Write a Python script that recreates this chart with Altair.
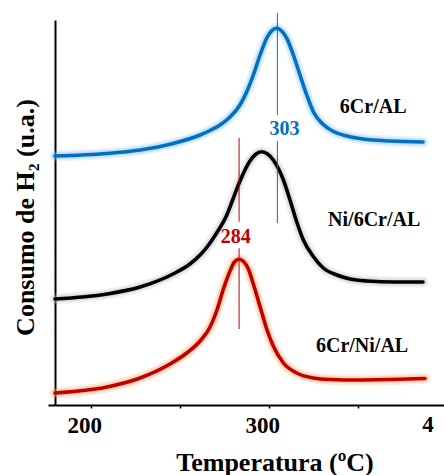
import altair as alt
import pandas as pd

# --- data (temperature in ºC, H2 consumption in arbitrary units) ---
series = ["6Cr/AL", "Ni/6Cr/AL", "6Cr/Ni/AL"]

t_blue = [179.6, 208.8, 227.4, 245.9, 261.1, 266.7, 272.3, 277.9, 283.5, 287.3, 291.0, 294.8, 298.5,
          301.2, 304.2, 306.9, 309.8, 313.5, 317.2, 321.0, 324.7, 330.3, 336.0, 343.5, 352.6, 367.8, 386.3]
h_blue = [249, 251.5, 255, 261.5, 270, 274.5, 280, 288, 300, 313.3, 330, 350, 366.7,
          374, 376.7, 374, 366.7, 350, 330, 310, 293.3, 280.5, 273.5, 269, 266, 264, 263]

t_black = [179.6, 208.8, 227.4, 245.9, 255.4, 261.1, 264.8, 270.4, 276.1, 279.8, 283.5, 289.1, 292.2,
           295.7, 299.0, 302.2, 307.9, 311.6, 315.4, 319.1, 324.7, 330.3, 337.9, 345.3, 354.9, 370.6, 386.3]
h_black = [106, 111, 118, 131, 141, 150, 157.5, 172, 190, 207, 224, 244, 250.5,
           253.3, 251, 245, 225, 205, 183, 165, 148.5, 137, 130, 126, 124, 123, 123]

t_red = [179.6, 208.8, 227.4, 244.2, 253.6, 261.1, 266.7, 270.4, 274.2, 277.9, 280.4, 283.0, 285.5,
         288.2, 291.0, 294.8, 298.5, 302.2, 307.9, 315.4, 324.7, 334.1, 349.3, 367.8, 387.4]
h_red = [12, 18, 27, 41, 52, 64, 78, 94, 116, 134, 143, 145.7, 143.5,
         136, 121, 98.3, 76, 59, 42, 32, 27, 25.5, 25, 25.5, 26.5]

# peak markers
peak_T = [304.5, 283.0]
peak_text = ["303", "284"]

# annotations
curve_label_T = [358.3, 358.9, 352.1]
curve_label_H = [298, 185, 59]
peak_label_T = [308.5, 281.1]
peak_label_H = [276, 168.3]

# vertical marker segments (two pieces each, leaving room for the number)
rule_T = [304.5, 304.5, 283.0, 283.0]
rule_y1 = [392, 264, 267, 156.7]
rule_y2 = [290, 182, 183.3, 76]

x_tick_values = [200, 250, 300, 350]
x_cut_label_T = [400]
x_cut_label = ["4"]

line_colors = ["#0070C0", "#000000", "#C00000"]
glow_colors = ["#8FC3F2", "#BDBDBD", "#F5A66A"]
peak_colors = ["#0070C0", "#C00000"]

rows = []
for name, ts, hs in [(series[0], t_blue, h_blue), (series[1], t_black, h_black), (series[2], t_red, h_red)]:
    for t, h in zip(ts, hs):
        rows.append({"serie": name, "T": t, "H": h})
df = pd.DataFrame(rows)

FONT = "Liberation Serif"

xscale = alt.Scale(domain=[179.6, 398.1], nice=False, zero=False)
yscale = alt.Scale(domain=[0, 385], nice=False, zero=False)

x_enc = alt.X(
    "T:Q", scale=xscale,
    axis=alt.Axis(
        values=x_tick_values,
        labelExpr="datum.value % 100 == 0 ? datum.label : ''",
        tickSize=3, tickColor="black", tickWidth=1.5,
        domainColor="black", domainWidth=2,
        labelFont=FONT, labelFontWeight="bold", labelFontSize=23, labelColor="black",
        labelOffset=-7, labelPadding=6,
        grid=False,
        title="Temperatura (ºC)", titleFont=FONT, titleFontWeight="bold", titleFontSize=26,
        titleColor="black", titleX=219.5, titleY=65, titleAlign="center", titleBaseline="alphabetic",
    ),
)
y_enc = alt.Y(
    "H:Q", scale=yscale,
    axis=alt.Axis(
        values=[0], labels=False, tickSize=7, tickColor="black", tickWidth=2,
        domainColor="black", domainWidth=2, grid=False,
        title="Consumo de H₂ (u.a.)", titleFont=FONT, titleFontWeight="bold", titleFontSize=26,
        titleColor="black", titleX=-22, titleY=197, titleAlign="center", titleBaseline="alphabetic",
        titleAngle=270,
    ),
)

base = alt.Chart(df)

glow_outer = base.mark_line(interpolate="monotone", strokeWidth=11, opacity=0.22, strokeCap="round").encode(
    x=x_enc, y=y_enc,
    color=alt.Color("serie:N", scale=alt.Scale(domain=series, range=glow_colors), legend=None),
)
glow_inner = base.mark_line(interpolate="monotone", strokeWidth=7, opacity=0.35, strokeCap="round").encode(
    x="T:Q", y="H:Q",
    color=alt.Color("serie:N", scale=alt.Scale(domain=series, range=glow_colors), legend=None),
)
lines = base.mark_line(interpolate="monotone", strokeWidth=3.6, strokeCap="round").encode(
    x="T:Q", y="H:Q",
    color=alt.Color("serie:N", scale=alt.Scale(domain=series, range=line_colors), legend=None),
)

rules_df = pd.DataFrame({
    "T": rule_T, "y1": rule_y1, "y2": rule_y2,
    "c": [peak_colors[0], peak_colors[0], peak_colors[1], peak_colors[1]],
})
rules = alt.Chart(rules_df).mark_rule(strokeWidth=1).encode(
    x="T:Q", y="y1:Q", y2="y2:Q", color=alt.Color("c:N", scale=None)
)

curve_labels = alt.Chart(pd.DataFrame({
    "T": curve_label_T, "H": curve_label_H, "txt": series,
})).mark_text(font=FONT, fontWeight="bold", fontSize=20, color="black", baseline="middle").encode(
    x="T:Q", y="H:Q", text="txt:N"
)

peak_labels = alt.Chart(pd.DataFrame({
    "T": peak_label_T, "H": peak_label_H, "txt": peak_text, "c": peak_colors,
})).mark_text(font=FONT, fontWeight="bold", fontSize=20, baseline="middle").encode(
    x="T:Q", y="H:Q", text="txt:N", color=alt.Color("c:N", scale=None)
)

cut_label = alt.Chart(pd.DataFrame({"T": x_cut_label_T, "txt": x_cut_label})).mark_text(
    font=FONT, fontWeight="bold", fontSize=23, color="black", baseline="alphabetic", dx=-19.5
).encode(x="T:Q", y=alt.value(412), text="txt:N")

chart = alt.layer(glow_outer, glow_inner, lines, rules, curve_labels, peak_labels, cut_label).resolve_scale(
    color="independent"
).properties(
    width=389, height=385,
    autosize=alt.AutoSizeParams(type="none"),
    padding={"left": 55, "top": 20, "right": 0, "bottom": 70},
).configure_view(stroke=None)

chart.save("out.html", embed_options={"renderer": "svg", "actions": False})
